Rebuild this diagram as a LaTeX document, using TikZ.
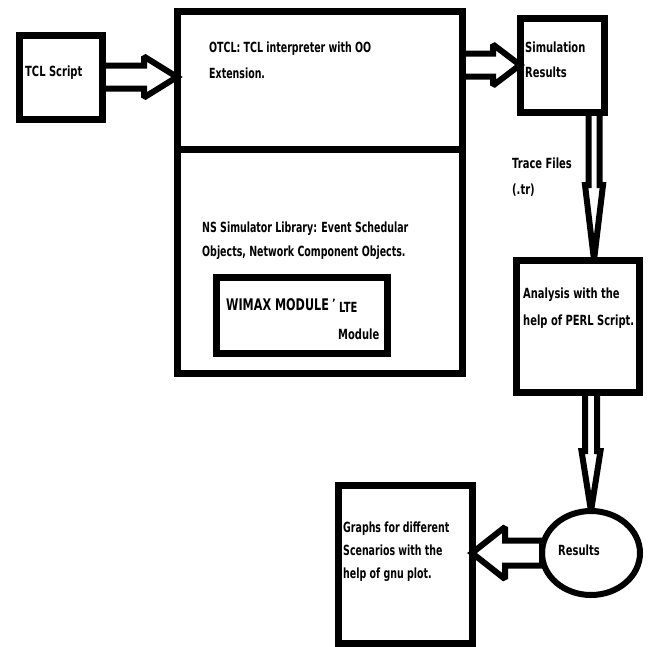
\documentclass[tikz,border=0pt]{standalone}
\usepackage{fontspec}
\usepackage{graphicx}
\setmainfont{DejaVu Sans}
\usetikzlibrary{calc,shapes.geometric}
\pgfdeclarelayer{bg}
\pgfsetlayers{bg,main}
\newcommand\nar[1]{\scalebox{0.71}[1]{#1}}
\newcommand\narr[1]{\scalebox{0.675}[1]{#1}}
\tikzset{
  box/.style={draw, line width=7pt, inner sep=0pt, outer sep=0pt},
  txt/.style={anchor=base west, inner sep=0pt, font=\fontsize{14}{14}\selectfont\bfseries},
  barrow/.style={draw, line width=6pt, fill=white, line join=miter, miter limit=2}
}
% from, to, shaft half width, head half width, head length
\newcommand\blockarrow[5]{%
  \begin{pgfonlayer}{bg}
  \coordinate (hb) at ($(#2)!#5!(#1)$);
  \draw[barrow] ($(#1)!#3!90:(#2)$) -- ($(hb)!#3!-90:(#1)$) -- ($(hb)!#4!-90:(#1)$)
    -- (#2) -- ($(hb)!#4!90:(#1)$) -- ($(hb)!#3!90:(#1)$) -- ($(#1)!#3!-90:(#2)$) -- cycle;
  \end{pgfonlayer}}
\begin{document}
\begin{tikzpicture}[x=1pt,y=-1pt]
\useasboundingbox (0,0) rectangle (653,646);
% boxes
\node[box, minimum width=83pt, minimum height=84pt] (tcl) at (60.5,77) {};
\node[box, minimum width=285pt, minimum height=362pt] (main) at (319.5,192) {};
\coordinate (divl) at (main.west |- 0,149);
\coordinate (divr) at (main.east |- 0,149);
\draw[line width=7pt] (divl) -- (divr);
\node[box, minimum width=171pt, minimum height=76pt] (wimax) at (301.5,315) {};
\node[box, minimum width=84pt, minimum height=94pt] (sim) at (562,65) {};
\node[box, minimum width=123pt, minimum height=132pt] (ana) at (577.5,326) {};
\node[box, minimum width=134pt, minimum height=158pt] (graphs) at (405,564) {};
\node[draw, ellipse, line width=6pt, minimum width=98pt, minimum height=84pt, inner sep=0pt, outer sep=0pt] (res) at (591,553) {};
% texts
\node[txt] (t1) at (25,76) {\nar{TCL Script}};
\node[txt] (t2) at (209,52) {\narr{\vtop{\baselineskip=26pt\hbox{OTCL: TCL interpreter with OO}\hbox{Extension.}}}};
\node[txt] (t3) at (202,232) {\narr{\vtop{\baselineskip=24pt\hbox{NS Simulator Library: Event Schedular}\hbox{Objects, Network Component Objects.}}}};
\node[anchor=base west, inner sep=0pt, font=\fontsize{16}{16}\selectfont\bfseries] (t4) at (226,310) {\scalebox{0.7}[1]{WIMAX MODULE}};
\node[anchor=base west, inner sep=0pt, font=\fontsize{10}{10}\selectfont\bfseries] (t4q) at (332,306) {’};
\node[txt] (t5) at (339,312) {\nar{LTE}};
\node[txt] (t6) at (338,339) {\nar{Module}};
\node[txt] (t7) at (525,52) {\nar{\vtop{\baselineskip=25pt\hbox{Simulation}\hbox{Results}}}};
\node[txt] (t8) at (512,168) {\nar{\vtop{\baselineskip=26pt\hbox{Trace Files}\hbox{(.tr)}}}};
\node[txt] (t9) at (523,298) {\nar{\vtop{\baselineskip=27pt\hbox{Analysis with the}\hbox{help of PERL Script.}}}};
\node[txt] (t10) at (343,532) {\narr{\vtop{\baselineskip=23pt\hbox{Graphs for different}\hbox{Scenarios with the}\hbox{help of gnu plot.}}}};
\node[txt] (t11) at (558,555) {\nar{Results}};
% arrows
\coordinate (a1e) at (main.west |- tcl.east);
\blockarrow{tcl.east}{a1e}{11.5pt}{20.5pt}{33pt}
\coordinate (a2s) at (main.east |- sim.west);
\blockarrow{a2s}{sim.west}{11.5pt}{20.5pt}{27pt}
\coordinate (a3s) at ($(sim.south)+(32,0)$);
\coordinate (a3e) at (a3s |- ana.north);
\blockarrow{a3s}{a3e}{5.5pt}{9pt}{75pt}
\coordinate (a4s) at (ana.south -| res.north);
\blockarrow{a4s}{res.north}{6pt}{9.5pt}{60pt}
\coordinate (a5e) at (graphs.east |- res.west);
\blockarrow{res.west}{a5e}{12.5pt}{26pt}{33pt}
\end{tikzpicture}
\end{document}
